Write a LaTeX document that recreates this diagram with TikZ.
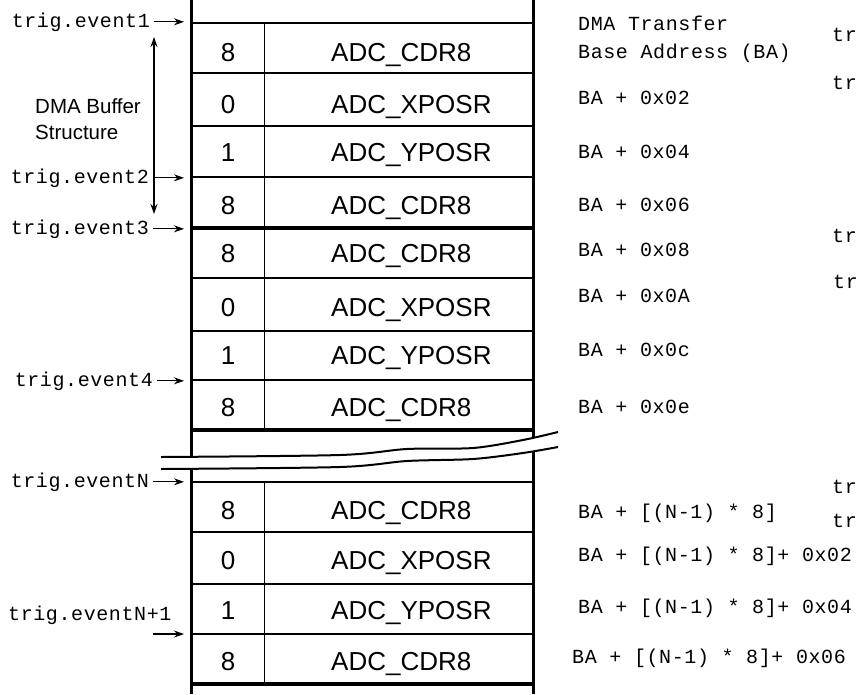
\documentclass[tikz,border=0pt]{standalone}
\usepackage{fontspec}
\setmainfont{Liberation Sans}
\setmonofont{Liberation Mono}[LetterSpace=3]
\usetikzlibrary{arrows.meta, positioning}

\begin{document}
\begin{tikzpicture}[
    x=1pt, y=-1pt,
    num/.style={anchor=base, inner sep=0pt, font=\fontsize{26}{31}\selectfont},
    reg/.style={anchor=base west, inner sep=0pt, font=\fontsize{26}{31}\selectfont},
    addr/.style={anchor=base west, inner sep=0pt, font=\ttfamily\fontsize{20}{24}\selectfont},
    trig/.style={anchor=base east, inner sep=0pt, font=\ttfamily\fontsize{20}{24}\selectfont},
    note/.style={anchor=west, align=left, inner sep=0pt, font=\fontsize{20.5}{26}\selectfont},
    border/.style={line width=3pt},
    thinrule/.style={line width=1.2pt},
    midrule/.style={line width=2pt},
    thickrule/.style={line width=4pt},
    colrule/.style={line width=1pt},
    brk/.style={line width=2pt},
    arrow/.style={-{Stealth[length=10pt,width=7pt]}, line width=1.3pt},
    dblarrow/.style={{Stealth[length=10pt,width=7pt]}-{Stealth[length=10pt,width=7pt]}, line width=1.3pt}]

    \useasboundingbox (0,0) rectangle (856,694);

    % Table frame
    \draw[border] (191,0) -- (191,694);
    \draw[border] (533,0) -- (533,694);
    \draw[colrule] (264,23) -- (264,430);
    \draw[colrule] (264,482) -- (264,684);

    % Row rules
    \foreach \y/\w in {23/thinrule, 73/midrule, 126/thinrule, 177/midrule, 228/thickrule,
                       278/midrule, 331/thinrule, 380/midrule, 430/thickrule,
                       482/thinrule, 532/midrule, 584/midrule, 634/midrule, 684/thickrule}
        \draw[\w] (191,\y) -- (533,\y);

    % Break in the buffer
    \fill[white] plot[smooth] coordinates {(161,457) (340,455) (407,449) (473,448) (523,440) (558,432)}
        -- plot[smooth] coordinates {(558,447) (523,453) (473,459) (407,461) (340,467) (161,469)} -- cycle;
    \draw[brk] plot[smooth] coordinates {(161,457) (340,455) (407,449) (473,448) (523,440) (558,432)};
    \draw[brk] plot[smooth] coordinates {(161,469) (340,467) (407,461) (473,459) (523,453) (558,447)};

    % Buffer entries: channel number and register
    \foreach \n/\reg/\y [count=\i] in {8/CDR8/52.5, 0/XPOSR/104, 1/YPOSR/152, 8/CDR8/205,
                                       8/CDR8/253, 0/XPOSR/307, 1/YPOSR/355, 8/CDR8/407,
                                       8/CDR8/510, 0/XPOSR/560, 1/YPOSR/610, 8/CDR8/661} {
        \node[num] (num\i) at (228,\y+9.3) {\n};
        \node[reg] (reg\i) at (331,\y+9.3) {ADC\_\reg};
    }

    % Addresses
    \node[addr] (ba0) at (578,30) {DMA Transfer};
    \node[addr] (ba1) at (578,58) {Base Address (BA)};
    \node[addr] (ba2) at (578,104) {BA + 0x02};
    \node[addr] (ba3) at (578,158) {BA + 0x04};
    \node[addr] (ba4) at (578,211) {BA + 0x06};
    \node[addr] (ba5) at (578,256) {BA + 0x08};
    \node[addr] (ba6) at (578,302) {BA + 0x0A};
    \node[addr] (ba7) at (578,356) {BA + 0x0c};
    \node[addr] (ba8) at (578,413) {BA + 0x0e};
    \node[addr] (baN0) at (578,518) {BA + [(N-1) * 8]};
    \node[addr] (baN1) at (578,561) {BA + [(N-1) * 8]+ 0x02};
    \node[addr] (baN2) at (578,613) {BA + [(N-1) * 8]+ 0x04};
    \node[addr] (baN3) at (572,663) {BA + [(N-1) * 8]+ 0x06};

    % Cut-off column on the right
    \node[addr] (tr1) at (832,41) {tr};
    \node[addr] (tr2) at (832,89) {tr};
    \node[addr] (tr3) at (832,242) {tr};
    \node[addr] (tr4) at (833,288) {tr};
    \node[addr] (tr5) at (832,493) {tr};
    \node[addr] (tr6) at (832,527) {tr};

    % Trigger events
    \coordinate (head) at (184,0);
    \node[trig] (ev1) at (150,27) {trig.event1};
    \node[trig] (ev2) at (149,183) {trig.event2};
    \node[trig] (ev3) at (149,234) {trig.event3};
    \node[trig] (ev4) at (153,386) {trig.event4};
    \node[trig] (evN) at (149,487) {trig.eventN};
    \node[trig, anchor=base west] (evN1) at (8,620) {trig.eventN+1};
    \coordinate (evN1tail) at (153,634);

    \foreach \e in {ev1, ev2, ev3, ev4, evN}
        \draw[arrow] ([xshift=4pt]\e.east) -- (\e.east -| head);
    \draw[arrow] (evN1tail) -- (evN1tail -| head);

    % Buffer structure span
    \coordinate (bufTop) at (154,37);
    \coordinate (bufBot) at (154,214);
    \draw[dblarrow] (bufTop) -- (bufBot);
    \node[note] (buf) at (35,119) {DMA Buffer\\Structure};
\end{tikzpicture}
\end{document}
